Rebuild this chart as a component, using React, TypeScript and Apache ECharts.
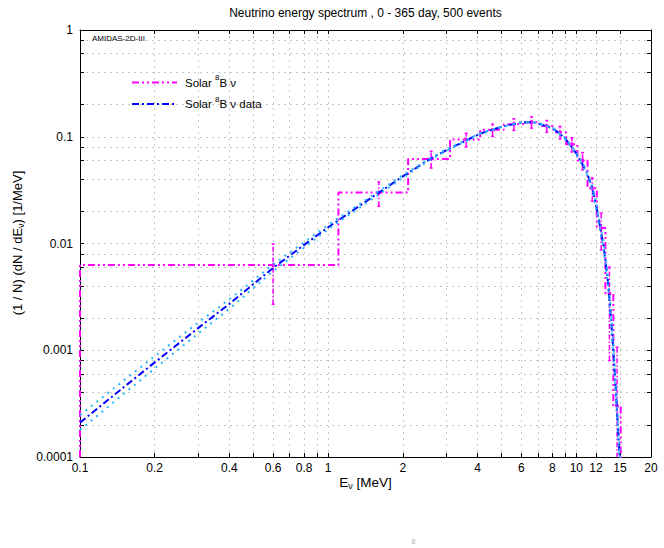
import React, { useEffect, useRef } from 'react';
import * as echarts from 'echarts';

// ---- axis ranges & ticks ----
const xMin = 0.1;
const xMax = 20;
const yMin = 0.0001;
const yMax = 1;
const xTickVals = [0.1, 0.2, 0.3, 0.4, 0.5, 0.6, 0.7, 0.8, 0.9, 1, 2, 3, 4, 5, 6, 7, 8, 9, 10, 12, 15, 20];
const xLabelVals = [0.1, 0.2, 0.4, 0.6, 0.8, 1, 2, 4, 6, 8, 10, 12, 15, 20];
const xLabelText = ['0.1', '0.2', '0.4', '0.6', '0.8', '1', '2', '4', '6', '8', '10', '12', '15', '20'];
const yTickVals = [0.0001, 0.0002, 0.0004, 0.0006, 0.0008, 0.001, 0.002, 0.004, 0.006, 0.008, 0.01, 0.02, 0.04, 0.06, 0.08, 0.1, 0.2, 0.4, 0.6, 0.8, 1];
const yLabelVals = [0.0001, 0.001, 0.01, 0.1, 1];
const yLabelText = ['0.0001', '0.001', '0.01', '0.1', '1'];

// ---- histogram (Solar 8B nu) ----
const binEdges = [0.1, 1.1, 2.1, 3.1, 4.1, 5.1, 6.1, 7.1, 8.1, 9.1, 10.1, 11.1, 12.1, 13.1, 14.1, 15.1];
const binCenters = [0.6, 1.6, 2.6, 3.6, 4.6, 5.6, 6.6, 7.6, 8.6, 9.6, 10.6, 11.6, 12.6, 13.6, 14.6];
const binValues = [0.0063, 0.030, 0.062, 0.094, 0.116, 0.131, 0.137, 0.126, 0.110, 0.085, 0.060, 0.033, 0.014, 0.0034, 0.0003];
const binErrors = [0.0036, 0.0077, 0.0111, 0.0137, 0.0152, 0.0162, 0.0166, 0.0159, 0.0148, 0.0130, 0.0110, 0.0081, 0.0053, 0.0026, 0.00077];

// ---- smooth curves ----
const curveE = [0.1, 0.15, 0.2, 0.3, 0.4, 0.6, 0.8, 1, 1.5, 2, 2.58, 3, 4.1, 5, 6, 6.5, 7, 8.1, 9, 10, 11, 11.6, 12.1, 12.9, 13.4, 13.75, 14.07, 14.35, 14.6, 14.95, 15.1];
const blueData = [2.1e-4, 4.5e-4, 7.7e-4, 1.62e-3, 2.72e-3, 5.9e-3, 9.7e-3, 1.42e-2, 2.7e-2, 4.25e-2, 6.2e-2, 7.5e-2, 1.07e-1, 1.24e-1, 1.36e-1, 1.37e-1, 1.34e-1, 1.19e-1, 9.7e-2, 7.0e-2, 4.7e-2, 3.3e-2, 2.1e-2, 9.3e-3, 4.5e-3, 2.2e-3, 1.08e-3, 5.3e-4, 2.6e-4, 1.0e-4, 6e-5];
const cyanAData = [2.47e-4, 5.2e-4, 8.8e-4, 1.82e-3, 3.0e-3, 6.35e-3, 1.03e-2, 1.49e-2, 2.8e-2, 4.37e-2, 6.3e-2, 7.6e-2, 1.08e-1, 1.245e-1, 1.36e-1, 1.37e-1, 1.335e-1, 1.18e-1, 9.6e-2, 6.85e-2, 4.55e-2, 3.15e-2, 1.95e-2, 8.6e-3, 4.1e-3, 1.95e-3, 9.4e-4, 4.5e-4, 2.2e-4, 8.3e-5, 5e-5];
const cyanBData = [1.79e-4, 3.9e-4, 6.75e-4, 1.44e-3, 2.45e-3, 5.5e-3, 9.15e-3, 1.36e-2, 2.6e-2, 4.13e-2, 6.1e-2, 7.4e-2, 1.06e-1, 1.235e-1, 1.36e-1, 1.375e-1, 1.355e-1, 1.2e-1, 9.8e-2, 7.15e-2, 4.85e-2, 3.45e-2, 2.25e-2, 1.0e-2, 5.0e-3, 2.5e-3, 1.24e-3, 6.2e-4, 3.1e-4, 1.2e-4, 7.5e-5];

const FONT = '"Liberation Sans", Arial, Helvetica, sans-serif';
const MAGENTA = '#ff00ff';
const BLUE = '#0000ff';
const CYAN = '#2ab6ff';
const DASH_MAG = [7, 3, 2, 3, 2, 3];
const DASH_BLUE = [7, 3, 2, 3];
const DASH_CYAN = [2, 5];

const nearestLabel = (vals: number[], texts: string[]) => (v: number) => {
  let best = 0;
  let bd = Infinity;
  vals.forEach((t, i) => {
    const d = Math.abs(Math.log10(t) - Math.log10(v));
    if (d < bd) { bd = d; best = i; }
  });
  return texts[best];
};

export default function App() {
  const ref = useRef<HTMLDivElement>(null);

  useEffect(() => {
    if (!ref.current) return;
    const chart = echarts.init(ref.current, undefined, { renderer: 'svg' });

    const histData: number[][] = [[binEdges[0], yMin]];
    for (let i = 0; i < binValues.length; i++) histData.push([binEdges[i], binValues[i]]);
    histData.push([binEdges[binEdges.length - 1], binValues[binValues.length - 1]]);
    histData.push([binEdges[binEdges.length - 1], yMin * 0.5]);

    const errData = binCenters.map((c, i) => [
      c,
      Math.max(binValues[i] - binErrors[i], yMin * 0.5),
      binValues[i] + binErrors[i],
      binValues[i],
    ]);

    const zip = (ys: number[]) => curveE.map((e, i) => [e, ys[i]]);

    const axisLineStyle = { show: true, onZero: false, lineStyle: { color: '#000', width: 1 } };
    const tickStyle = (vals: number[]) => ({
      show: true, inside: true, length: 4, customValues: vals, lineStyle: { color: '#000', width: 1 },
    });
    const gridLine = { show: true, lineStyle: { color: '#c8c8c8', width: 1, type: [2, 4] } };
    const labelStyle = { color: '#000', fontSize: 12, fontFamily: FONT };

    const option: any = {
      animation: false,
      backgroundColor: '#fff',
      grid: { left: 80, top: 30, right: 13, bottom: 91, containLabel: false },
      xAxis: [
        {
          type: 'log', logBase: 10, min: xMin, max: xMax, position: 'bottom',
          axisLine: axisLineStyle,
          axisTick: tickStyle(xTickVals),
          axisLabel: { ...labelStyle, margin: 5, customValues: xLabelVals, formatter: nearestLabel(xLabelVals, xLabelText) },
          splitLine: gridLine,
          minorTick: { show: false }, minorSplitLine: { show: false },
        },
        {
          type: 'log', logBase: 10, min: xMin, max: xMax, position: 'top',
          axisLine: axisLineStyle,
          axisTick: tickStyle(xTickVals),
          axisLabel: { show: false },
          splitLine: { show: false },
        },
      ],
      yAxis: [
        {
          type: 'log', logBase: 10, min: yMin, max: yMax, position: 'left',
          axisLine: axisLineStyle,
          axisTick: tickStyle(yTickVals),
          axisLabel: { ...labelStyle, margin: 7, customValues: yLabelVals, formatter: nearestLabel(yLabelVals, yLabelText) },
          splitLine: gridLine,
          minorTick: { show: false }, minorSplitLine: { show: false },
        },
        {
          type: 'log', logBase: 10, min: yMin, max: yMax, position: 'right',
          axisLine: axisLineStyle,
          axisTick: tickStyle(yTickVals),
          axisLabel: { show: false },
          splitLine: { show: false },
        },
      ],
      series: [
        {
          name: 'Solar 8B nu', type: 'line', step: 'end', data: histData, symbol: 'none', clip: true,
          lineStyle: { color: MAGENTA, width: 2, type: DASH_MAG }, z: 2,
        },
        {
          name: 'errors', type: 'custom', data: errData, encode: { x: 0, y: [1, 2] }, clip: true, z: 3,
          renderItem: (params: any, api: any) => {
            const x = api.value(0);
            const a = api.coord([x, api.value(1)]);
            const b = api.coord([x, api.value(2)]);
            const c = api.coord([x, api.value(3)]);
            return {
              type: 'group',
              children: [
                { type: 'line', shape: { x1: a[0], y1: a[1], x2: b[0], y2: b[1] }, style: { stroke: MAGENTA, lineWidth: 1.5, lineDash: [5, 2, 1.5, 2] } },
                { type: 'line', shape: { x1: b[0] - 1.5, y1: b[1], x2: b[0] + 1.5, y2: b[1] }, style: { stroke: MAGENTA, lineWidth: 1.5 } },
                { type: 'line', shape: { x1: a[0] - 1.5, y1: a[1], x2: a[0] + 1.5, y2: a[1] }, style: { stroke: MAGENTA, lineWidth: 1.5 } },
                { type: 'circle', shape: { cx: c[0], cy: c[1], r: 2 }, style: { fill: MAGENTA } },
              ],
            };
          },
        },
        {
          name: 'Solar 8B nu data', type: 'line', data: zip(blueData), symbol: 'none', clip: true,
          smooth: false,
          lineStyle: { color: BLUE, width: 2, type: DASH_BLUE }, z: 4,
        },
        {
          name: 'band upper', type: 'line', data: zip(cyanAData), symbol: 'none', clip: true,
          smooth: false,
          lineStyle: { color: CYAN, width: 2, type: DASH_CYAN }, z: 5,
        },
        {
          name: 'band lower', type: 'line', data: zip(cyanBData), symbol: 'none', clip: true,
          smooth: false,
          lineStyle: { color: CYAN, width: 2, type: DASH_CYAN }, z: 5,
        },
      ],
      graphic: [
        {
          type: 'text', x: 365.5, y: 13, z: 10,
          style: { text: 'Neutrino energy spectrum , 0 - 365 day, 500 events', font: `12px ${FONT}`, fill: '#000', align: 'center', verticalAlign: 'middle' },
        },
        {
          type: 'text', x: 92, y: 38, z: 10,
          style: { text: 'AMIDAS-2D-III', font: `8px ${FONT}`, fill: '#000', align: 'left', verticalAlign: 'middle' },
        },
        {
          type: 'text', x: 365.5, y: 482, z: 10,
          style: {
            text: '{a|E}{s|ν}{a| [MeV]}', fill: '#000', align: 'center', verticalAlign: 'middle',
            rich: {
              a: { font: `13.5px ${FONT}`, fill: '#000', lineHeight: 16 },
              s: { font: `9px ${FONT}`, fill: '#000', verticalAlign: 'bottom', lineHeight: 9 },
            },
          },
        },
        {
          type: 'text', x: 17, y: 243, rotation: Math.PI / 2, z: 10,
          style: {
            text: '{a|(1 / N) (dN / dE}{s|ν}{a|) [1/MeV]}', fill: '#000', align: 'center', verticalAlign: 'middle',
            rich: {
              a: { font: `13px ${FONT}`, fill: '#000', lineHeight: 16 },
              s: { font: `9px ${FONT}`, fill: '#000', verticalAlign: 'bottom', lineHeight: 9 },
            },
          },
        },
        {
          type: 'line', z: 10, shape: { x1: 132, y1: 82.5, x2: 177, y2: 82.5 },
          style: { stroke: MAGENTA, lineWidth: 2, lineDash: DASH_MAG },
        },
        {
          type: 'text', x: 185, y: 82.5, z: 10,
          style: {
            text: '{a|Solar }{s|8}{a|B ν}', fill: '#000', align: 'left', verticalAlign: 'middle',
            rich: {
              a: { font: `11.5px ${FONT}`, fill: '#000', lineHeight: 18 },
              s: { font: `8px ${FONT}`, fill: '#000', verticalAlign: 'top', lineHeight: 8 },
            },
          },
        },
        {
          type: 'line', z: 10, shape: { x1: 132, y1: 104, x2: 177, y2: 104 },
          style: { stroke: BLUE, lineWidth: 2, lineDash: DASH_BLUE },
        },
        {
          type: 'text', x: 185, y: 104, z: 10,
          style: {
            text: '{a|Solar }{s|8}{a|B ν data}', fill: '#000', align: 'left', verticalAlign: 'middle',
            rich: {
              a: { font: `11.5px ${FONT}`, fill: '#000', lineHeight: 18 },
              s: { font: `8px ${FONT}`, fill: '#000', verticalAlign: 'top', lineHeight: 8 },
            },
          },
        },
        {
          type: 'text', x: 413.5, y: 538, z: 10,
          style: { text: '8', font: `7px ${FONT}`, fill: '#aaa', align: 'center', verticalAlign: 'top' },
        },
      ],
    };

    chart.setOption(option);
    return () => chart.dispose();
  }, []);

  return (
    <div
      ref={ref}
      style={{ position: 'absolute', left: 0, top: 0, width: 664, height: 548, background: '#fff' }}
    />
  );
}
